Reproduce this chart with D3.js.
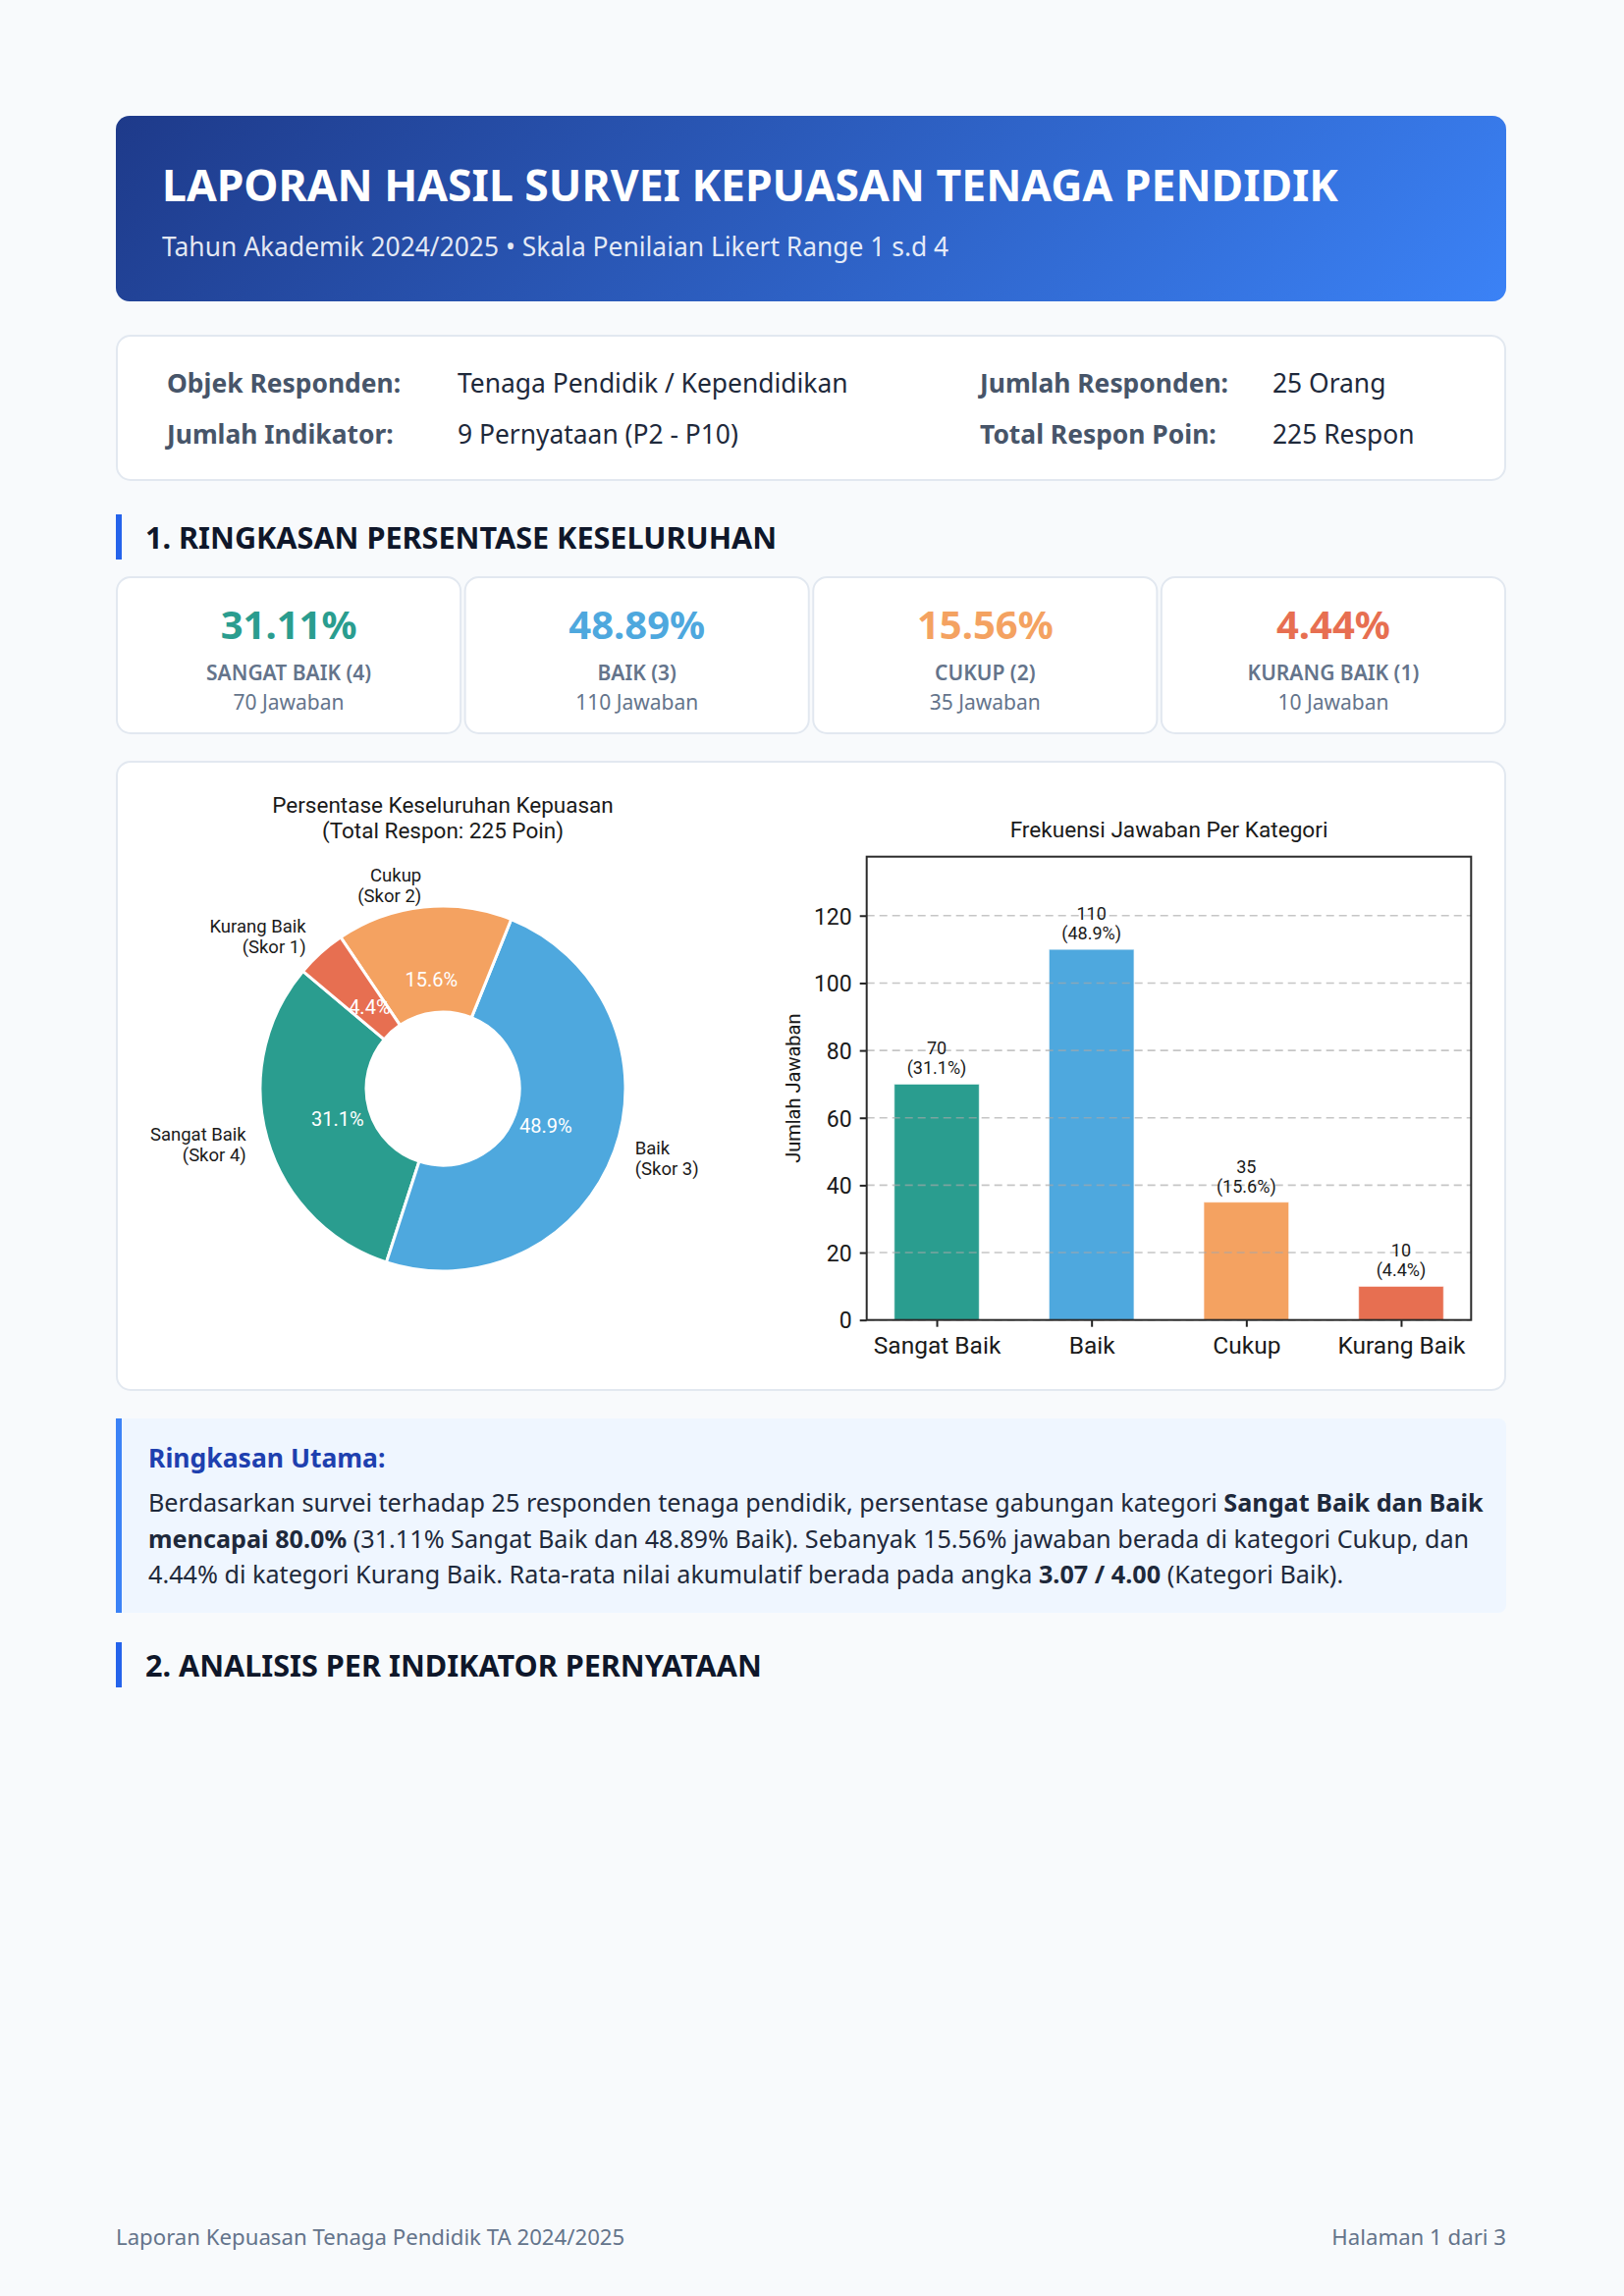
<!DOCTYPE html>
<html>
<head>
<meta charset="utf-8">
<script src="https://cdn.jsdelivr.net/npm/d3@7"></script>
<style>
  html, body { margin: 0; padding: 0; background: #f8fafc; }
  svg { display: block; }
</style>
</head>
<body>
<div id="page"></div>
<script>
// --- data ---
const categories = ['Sangat Baik', 'Baik', 'Cukup', 'Kurang Baik'];
const scores = [4, 3, 2, 1];
const counts = [70, 110, 35, 10];
const colors = ['#2a9d8f', '#4ea8de', '#f4a261', '#e76f51'];
const yTicks = [0, 20, 40, 60, 80, 100, 120];

const infoLabels = ['Objek Responden:', 'Jumlah Indikator:', 'Jumlah Responden:', 'Total Respon Poin:'];
const infoValues = ['Tenaga Pendidik / Kependidikan', '9 Pernyataan (P2 - P10)', '25 Orang', '225 Respon'];

const total = d3.sum(counts);
const pct = counts.map((c) => (c / total) * 100);

const W = 1654;
const H = 2339;
const pageFont = "'Noto Sans', sans-serif";
const chartFont = "Roboto, 'Noto Sans', sans-serif";

const svg = d3
  .select('#page')
  .append('svg')
  .attr('width', W)
  .attr('height', H);

// css-like 135deg gradient over the header box
const defs = svg.append('defs');
const grad = defs
  .append('linearGradient')
  .attr('id', 'hdr')
  .attr('gradientUnits', 'userSpaceOnUse')
  .attr('x1', 425)
  .attr('y1', -188)
  .attr('x2', 1227)
  .attr('y2', 614);
grad.append('stop').attr('offset', '0%').attr('stop-color', '#1e3a8a');
grad.append('stop').attr('offset', '100%').attr('stop-color', '#3b82f6');

svg.append('rect').attr('width', W).attr('height', H).attr('fill', '#f8fafc');

// header
svg
  .append('rect')
  .attr('x', 118)
  .attr('y', 118)
  .attr('width', 1416)
  .attr('height', 189)
  .attr('rx', 14)
  .attr('fill', 'url(#hdr)');

svg
  .append('text')
  .attr('x', 165)
  .attr('y', 205)
  .attr('font-family', pageFont)
  .attr('font-weight', 700)
  .attr('font-size', 44.5)
  .attr('fill', '#fff')
  .text('LAPORAN HASIL SURVEI KEPUASAN TENAGA PENDIDIK');

svg
  .append('text')
  .attr('x', 165)
  .attr('y', 261)
  .attr('font-family', pageFont)
  .attr('font-size', 26.4)
  .attr('fill', 'rgba(255,255,255,0.88)')
  .text('Tahun Akademik 2024/2025 \u2022 Skala Penilaian Likert Range 1 s.d 4');

// info box
svg
  .append('rect')
  .attr('x', 119)
  .attr('y', 342)
  .attr('width', 1414)
  .attr('height', 147)
  .attr('rx', 14)
  .attr('fill', '#fff')
  .attr('stroke', '#e2e8f0')
  .attr('stroke-width', 2);

const infoPos = [
  { lx: 170, vx: 466, y: 400 },
  { lx: 170, vx: 466, y: 452 },
  { lx: 998, vx: 1296, y: 400 },
  { lx: 998, vx: 1296, y: 452 },
];
infoLabels.forEach((lab, i) => {
  svg
    .append('text')
    .attr('x', infoPos[i].lx)
    .attr('y', infoPos[i].y)
    .attr('font-family', pageFont)
    .attr('font-weight', 700)
    .attr('font-size', 26.4)
    .attr('fill', '#475569')
    .text(lab);
  svg
    .append('text')
    .attr('x', infoPos[i].vx)
    .attr('y', infoPos[i].y)
    .attr('font-family', pageFont)
    .attr('font-size', 26.4)
    .attr('fill', '#1e293b')
    .text(infoValues[i]);
});

// section headings
const heading = (y, label) => {
  svg
    .append('rect')
    .attr('x', 118)
    .attr('y', y - 35)
    .attr('width', 6)
    .attr('height', 46)
    .attr('fill', '#2563eb');
  svg
    .append('text')
    .attr('x', 148)
    .attr('y', y)
    .attr('font-family', pageFont)
    .attr('font-weight', 700)
    .attr('font-size', 30.6)
    .attr('fill', '#0f172a')
    .text(label);
};
heading(559, '1. RINGKASAN PERSENTASE KESELURUHAN');
heading(1708, '2. ANALISIS PER INDIKATOR PERNYATAAN');

// stat cards
const cardX = d3.scaleBand().domain(d3.range(4)).range([118, 1534]).paddingInner(0.007);
const cards = svg
  .selectAll('g.card')
  .data(categories)
  .enter()
  .append('g')
  .attr('class', 'card')
  .attr('transform', (d, i) => `translate(${cardX(i)},0)`);

cards
  .append('rect')
  .attr('x', 1)
  .attr('y', 588)
  .attr('width', cardX.bandwidth() - 2)
  .attr('height', 159)
  .attr('rx', 14)
  .attr('fill', '#fff')
  .attr('stroke', '#e2e8f0')
  .attr('stroke-width', 2);

cards
  .append('text')
  .attr('x', cardX.bandwidth() / 2)
  .attr('y', 651)
  .attr('text-anchor', 'middle')
  .attr('font-family', pageFont)
  .attr('font-weight', 700)
  .attr('font-size', 40)
  .attr('fill', (d, i) => colors[i])
  .text((d, i) => pct[i].toFixed(2) + '%');

cards
  .append('text')
  .attr('x', cardX.bandwidth() / 2)
  .attr('y', 693)
  .attr('text-anchor', 'middle')
  .attr('font-family', pageFont)
  .attr('font-weight', 600)
  .attr('font-size', 21)
  .attr('fill', '#64748b')
  .text((d, i) => `${d.toUpperCase()} (${scores[i]})`);

cards
  .append('text')
  .attr('x', cardX.bandwidth() / 2)
  .attr('y', 723)
  .attr('text-anchor', 'middle')
  .attr('font-family', pageFont)
  .attr('font-size', 21)
  .attr('fill', '#64748b')
  .text((d, i) => `${counts[i]} Jawaban`);

// chart card
svg
  .append('rect')
  .attr('x', 119)
  .attr('y', 776)
  .attr('width', 1414)
  .attr('height', 640)
  .attr('rx', 14)
  .attr('fill', '#fff')
  .attr('stroke', '#e2e8f0')
  .attr('stroke-width', 2);

// --- donut ---
const cx = 451;
const cy = 1109;
const R = 186;
const pieG = svg.append('g').attr('transform', `translate(${cx},${cy})`);

const pie = d3
  .pie()
  .sort(null)
  .value((d) => d)
  .startAngle((-50 * Math.PI) / 180)
  .endAngle((-410 * Math.PI) / 180);
const arcs = pie(counts);

const arc = d3.arc().innerRadius(78).outerRadius(R);
const pctArc = d3.arc().innerRadius(R * 0.6).outerRadius(R * 0.6);
const labArc = d3.arc().innerRadius(R * 1.12).outerRadius(R * 1.12);

pieG
  .selectAll('path')
  .data(arcs)
  .enter()
  .append('path')
  .attr('d', arc)
  .attr('fill', (d, i) => colors[i])
  .attr('stroke', '#fff')
  .attr('stroke-width', 3)
  .attr('stroke-linejoin', 'round');

pieG
  .selectAll('text.pct')
  .data(arcs)
  .enter()
  .append('text')
  .attr('class', 'pct')
  .attr('x', (d) => pctArc.centroid(d)[0])
  .attr('y', (d) => pctArc.centroid(d)[1] + 7)
  .attr('text-anchor', 'middle')
  .attr('font-family', chartFont)
  .attr('font-size', 20)
  .attr('fill', '#fff')
  .text((d, i) => pct[i].toFixed(1) + '%');

const labs = pieG
  .selectAll('text.lab')
  .data(arcs)
  .enter()
  .append('text')
  .attr('class', 'lab')
  .attr('text-anchor', (d) => (labArc.centroid(d)[0] < 0 ? 'end' : 'start'))
  .attr('font-family', chartFont)
  .attr('font-size', 18.5)
  .attr('fill', '#1a1a1a');
labs
  .append('tspan')
  .attr('x', (d) => labArc.centroid(d)[0])
  .attr('y', (d) => labArc.centroid(d)[1] - 4)
  .text((d, i) => categories[i]);
labs
  .append('tspan')
  .attr('x', (d) => labArc.centroid(d)[0])
  .attr('y', (d) => labArc.centroid(d)[1] + 17)
  .text((d, i) => `(Skor ${scores[i]})`);

const pieTitle = svg
  .append('text')
  .attr('text-anchor', 'middle')
  .attr('font-family', chartFont)
  .attr('font-size', 22.5)
  .attr('fill', '#1a1a1a');
pieTitle.append('tspan').attr('x', cx).attr('y', 828).text('Persentase Keseluruhan Kepuasan');
pieTitle.append('tspan').attr('x', cx).attr('y', 854).text(`(Total Respon: ${total} Poin)`);

// --- bar chart ---
const plot = { left: 882.7, right: 1498.3, top: 872.7, bottom: 1344.7 };
const barW = 0.55;

const x = d3
  .scaleLinear()
  .domain([-barW / 2 - 0.1775, categories.length - 1 + barW / 2 + 0.1775])
  .range([plot.left, plot.right]);

const y = d3
  .scaleLinear()
  .domain([0, d3.max(counts) * 1.25])
  .range([plot.bottom, plot.top]);

const barG = svg.append('g');

barG
  .selectAll('rect.bar')
  .data(counts)
  .enter()
  .append('rect')
  .attr('class', 'bar')
  .attr('x', (d, i) => x(i - barW / 2))
  .attr('width', (d, i) => x(i + barW / 2) - x(i - barW / 2))
  .attr('y', (d) => y(d))
  .attr('height', (d) => y(0) - y(d))
  .attr('fill', (d, i) => colors[i])
  .attr('stroke', '#fff')
  .attr('stroke-opacity', 0.6)
  .attr('stroke-width', 1.2);

barG
  .selectAll('line.grid')
  .data(yTicks)
  .enter()
  .append('line')
  .attr('class', 'grid')
  .attr('x1', plot.left)
  .attr('x2', plot.right)
  .attr('y1', (d) => y(d))
  .attr('y2', (d) => y(d))
  .attr('stroke', '#a8a8a8')
  .attr('stroke-opacity', 0.65)
  .attr('stroke-width', 1.6)
  .attr('stroke-dasharray', '8,5');

const valLab = barG
  .selectAll('text.val')
  .data(counts)
  .enter()
  .append('text')
  .attr('class', 'val')
  .attr('text-anchor', 'middle')
  .attr('font-family', chartFont)
  .attr('font-size', 18)
  .attr('fill', '#1a1a1a');
valLab
  .append('tspan')
  .attr('x', (d, i) => x(i))
  .attr('y', (d) => y(d) - 30)
  .text((d) => d);
valLab
  .append('tspan')
  .attr('x', (d, i) => x(i))
  .attr('y', (d) => y(d) - 10)
  .text((d, i) => `(${pct[i].toFixed(1)}%)`);

const yAxis = d3.axisLeft(y).tickValues(yTicks).tickSize(7).tickPadding(8).tickFormat(d3.format('d'));
const gy = svg.append('g').attr('transform', `translate(${plot.left},0)`).call(yAxis);

const xAxis = d3
  .axisBottom(x)
  .tickValues(d3.range(categories.length))
  .tickSize(7)
  .tickPadding(8)
  .tickFormat((i) => categories[i]);
const gx = svg.append('g').attr('transform', `translate(0,${plot.bottom})`).call(xAxis);

[gx, gy].forEach((g) => {
  g.select('.domain').remove();
  g.selectAll('.tick line').attr('stroke', '#222').attr('stroke-width', 2);
  g.selectAll('.tick text')
    .attr('font-family', chartFont)
    .attr('fill', '#1a1a1a');
});
gy.selectAll('.tick text').attr('font-size', 23).attr('dy', '0.36em');
gx.selectAll('.tick text').attr('font-size', 24.5).attr('dy', '0.8em');

svg
  .append('rect')
  .attr('x', plot.left)
  .attr('y', plot.top)
  .attr('width', plot.right - plot.left)
  .attr('height', plot.bottom - plot.top)
  .attr('fill', 'none')
  .attr('stroke', '#2b2b2b')
  .attr('stroke-width', 2);

svg
  .append('text')
  .attr('transform', `translate(808,${(plot.top + plot.bottom) / 2}) rotate(-90)`)
  .attr('text-anchor', 'middle')
  .attr('dy', '0.35em')
  .attr('font-family', chartFont)
  .attr('font-size', 20)
  .attr('fill', '#1a1a1a')
  .text('Jumlah Jawaban');

svg
  .append('text')
  .attr('x', (plot.left + plot.right) / 2)
  .attr('y', 853)
  .attr('text-anchor', 'middle')
  .attr('font-family', chartFont)
  .attr('font-size', 22.6)
  .attr('fill', '#1a1a1a')
  .text('Frekuensi Jawaban Per Kategori');

// summary box
svg
  .append('rect')
  .attr('x', 118)
  .attr('y', 1445)
  .attr('width', 1416)
  .attr('height', 198)
  .attr('rx', 8)
  .attr('fill', '#eff6ff');
svg
  .append('rect')
  .attr('x', 118)
  .attr('y', 1445)
  .attr('width', 6)
  .attr('height', 198)
  .attr('fill', '#3b82f6');

svg
  .append('text')
  .attr('x', 151)
  .attr('y', 1495)
  .attr('font-family', pageFont)
  .attr('font-weight', 700)
  .attr('font-size', 26.5)
  .attr('fill', '#1e40af')
  .text('Ringkasan Utama:');

const paraLines = [
  [
    ['Berdasarkan survei terhadap 25 responden tenaga pendidik, persentase gabungan kategori ', false],
    ['Sangat Baik dan Baik', true],
  ],
  [
    ['mencapai 80.0%', true],
    [' (31.11% Sangat Baik dan 48.89% Baik). Sebanyak 15.56% jawaban berada di kategori Cukup, dan', false],
  ],
  [
    ['4.44% di kategori Kurang Baik. Rata-rata nilai akumulatif berada pada angka ', false],
    ['3.07 / 4.00', true],
    [' (Kategori Baik).', false],
  ],
];
paraLines.forEach((line, li) => {
  const t = svg
    .append('text')
    .attr('x', 151)
    .attr('y', 1540 + li * 36.5)
    .attr('font-family', pageFont)
    .attr('font-size', 25.2)
    .attr('fill', '#1e293b')
    .style('white-space', 'pre');
  line.forEach(([s, b]) => {
    t.append('tspan').attr('font-weight', b ? 700 : 400).text(s);
  });
});

// footer
svg
  .append('text')
  .attr('x', 118)
  .attr('y', 2287)
  .attr('font-family', pageFont)
  .attr('font-size', 22.2)
  .attr('fill', '#64748b')
  .text('Laporan Kepuasan Tenaga Pendidik TA 2024/2025');
svg
  .append('text')
  .attr('x', 1534)
  .attr('y', 2287)
  .attr('text-anchor', 'end')
  .attr('font-family', pageFont)
  .attr('font-size', 22.2)
  .attr('fill', '#64748b')
  .text('Halaman 1 dari 3');
</script>
</body>
</html>
